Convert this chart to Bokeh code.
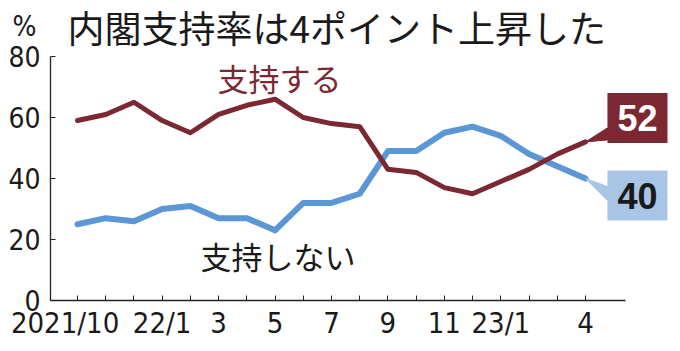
from bokeh.plotting import figure
from bokeh.models import Range1d, FixedTicker, Label
from bokeh.embed import file_html
from bokeh.resources import INLINE

# ---- data ----
months = ["2021/10", "11", "12", "22/1", "2", "3", "4", "5", "6", "7", "8",
          "9", "10", "11", "12", "23/1", "2", "3", "4"]
shown_labels = ["2021/10", "22/1", "3", "5", "7", "9", "11", "23/1", "4"]
shown_index = [0, 3, 5, 7, 9, 11, 13, 15, 18]
support = [59, 61, 65, 59, 55, 61, 64, 66, 60, 58, 57, 43, 42, 37, 35, 39, 43, 48, 52]
oppose = [25, 27, 26, 30, 31, 27, 27, 23, 32, 32, 35, 49, 49, 55, 57, 54, 48, 44, 40]
y_ticks = [0, 20, 40, 60, 80]

x = list(range(len(months)))

# ---- style / geometry ----
RED = "#7b2833"
BLUE = "#5b97d4"
BLUE_BOX = "#a9c5e6"
NUM_FONT = "DejaVu Sans Condensed"
JP_FONT = "Noto Sans CJK JP"

W, H = 680, 351
STEP_PX = 28.22               # pixels per month
FIRST_PX = 77                 # pixel position of the first month
AXIS_PX = 50                  # pixel position of the y axis
BASE_PX = 300                 # pixel position of the x axis (value 0)
Y_PX = 3.05                   # pixels per percentage point
X0 = -FIRST_PX / STEP_PX
X1 = (W - FIRST_PX) / STEP_PX
Y0 = -(H - BASE_PX) / Y_PX
Y1 = BASE_PX / Y_PX
AXIS_X = (AXIS_PX - FIRST_PX) / STEP_PX
AXIS_END = (625 - FIRST_PX) / STEP_PX
PX_X = 1 / STEP_PX
PX_Y = 1 / Y_PX

p = figure(width=W, height=H, output_backend="svg", toolbar_location=None,
           x_range=Range1d(X0, X1), y_range=Range1d(Y0, Y1),
           min_border_left=0, min_border_right=0,
           min_border_top=0, min_border_bottom=0)
p.outline_line_color = None
p.xgrid.visible = False
p.ygrid.visible = False
p.background_fill_color = "white"
p.border_fill_color = "white"

# x axis, placed at value 0 inside the frame
labels = {i: "" for i in x}
for i, t in zip(shown_index, shown_labels):
    labels[i] = t
labels[0] = shown_labels[0] + "\u00a0\u00a0\u00a0"
p.xaxis.fixed_location = 0
p.xaxis.ticker = FixedTicker(ticks=x)
p.xaxis.major_label_overrides = labels
p.xaxis.bounds = (AXIS_X, AXIS_END)
p.xaxis.major_tick_in = 5
p.xaxis.major_tick_out = 0
p.xaxis.minor_tick_line_color = None
p.xaxis.axis_line_color = "#222222"
p.xaxis.major_tick_line_color = "#222222"
p.xaxis.axis_line_width = 1.3
p.xaxis.major_label_text_font = NUM_FONT
p.xaxis.major_label_text_font_size = "29px"
p.xaxis.major_label_text_color = "#1a1a1a"
p.xaxis.major_label_standoff = 5

# y axis, placed inside the frame at the left end of the x axis
p.yaxis.fixed_location = AXIS_X
p.yaxis.ticker = FixedTicker(ticks=y_ticks)
p.yaxis.bounds = (y_ticks[0], y_ticks[-1])
p.yaxis.major_tick_in = 5
p.yaxis.major_tick_out = 0
p.yaxis.minor_tick_line_color = None
p.yaxis.axis_line_color = "#222222"
p.yaxis.major_tick_line_color = "#222222"
p.yaxis.axis_line_width = 1.3
p.yaxis.major_label_text_font = NUM_FONT
p.yaxis.major_label_text_font_size = "28px"
p.yaxis.major_label_text_color = "#1a1a1a"
p.yaxis.major_label_standoff = 10

# lines
p.line(x, oppose, line_color=BLUE, line_width=6, line_join="round", line_cap="round")
p.line(x, support, line_color=RED, line_width=5, line_join="round", line_cap="round")

# callout tails
xl = x[-1]
p.patch([xl, xl + 22 * PX_X, xl + 22 * PX_X],
        [support[-1], support[-1] + 14 * PX_Y, support[-1] + 2 * PX_Y],
        fill_color=RED, line_color=RED, line_width=1)
p.patch([xl, xl + 22 * PX_X, xl + 22 * PX_X],
        [oppose[-1], oppose[-1] - 8 * PX_Y, oppose[-1] - 22 * PX_Y],
        fill_color=BLUE_BOX, line_color=BLUE_BOX, line_width=1)

# callout boxes
p.add_layout(Label(x=xl, y=support[-1], x_offset=52, y_offset=24, text=str(support[-1]),
                   text_align="center", text_baseline="middle",
                   text_font="Liberation Sans", text_font_style="bold", text_font_size="36px",
                   text_color="white", background_fill_color=RED,
                   padding=dict(left=10, right=10, top=12, bottom=12)))
p.add_layout(Label(x=xl, y=oppose[-1], x_offset=52, y_offset=-17, text=str(oppose[-1]),
                   text_align="center", text_baseline="middle",
                   text_font="Liberation Sans", text_font_style="bold", text_font_size="36px",
                   text_color="#1a1a1a", background_fill_color=BLUE_BOX,
                   padding=dict(left=10, right=10, top=12, bottom=12)))

# series labels
p.add_layout(Label(x=4.96, y=73.1, text="支持する", text_align="left", text_baseline="middle",
                   text_font=JP_FONT, text_font_size="31px", text_color=RED))
p.add_layout(Label(x=4.36, y=14.8, text="支持しない", text_align="left", text_baseline="middle",
                   text_font=JP_FONT, text_font_size="31px", text_color="#1a1a1a"))

# title and unit (screen units: from the frame's lower-left corner = canvas bottom-left)
p.add_layout(Label(x=67, y=H - 26, x_units="screen", y_units="screen",
                   text="内閣支持率は4ポイント上昇した", text_align="left", text_baseline="middle",
                   text_font=JP_FONT, text_font_size="37px", text_color="#1a1a1a"))
p.add_layout(Label(x=12, y=H - 26, x_units="screen", y_units="screen",
                   text="%", text_align="left", text_baseline="middle",
                   text_font=NUM_FONT, text_font_size="28px", text_color="#1a1a1a"))

open("out.html", "w").write(file_html(p, INLINE))
